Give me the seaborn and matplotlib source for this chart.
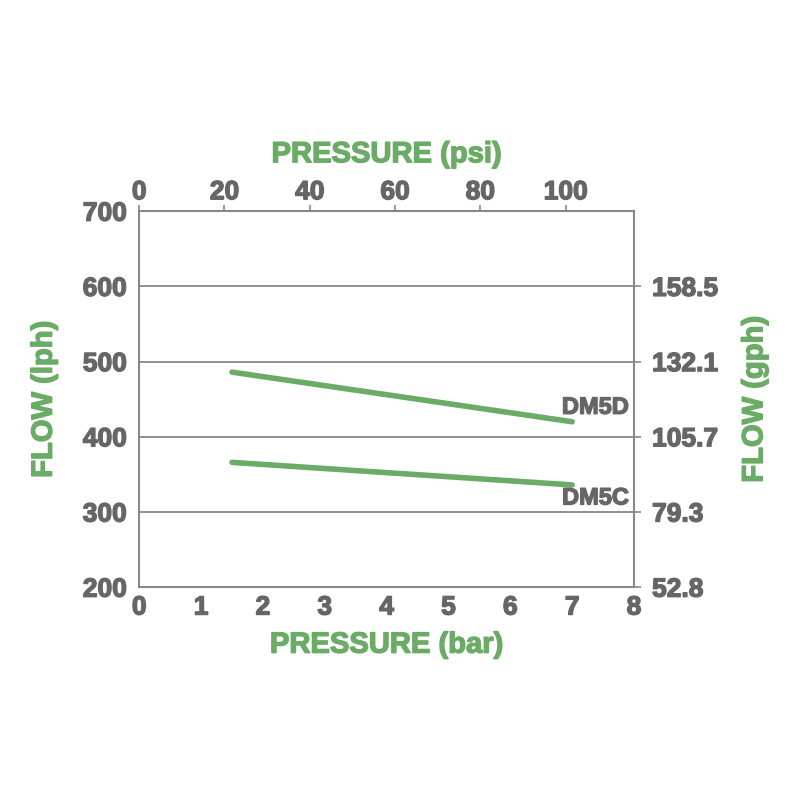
import numpy as np
import pandas as pd
import seaborn as sns
import matplotlib.pyplot as plt
import matplotlib.patheffects as pe

# data
pressure_bar = [1.5, 7.0]
dm5d_lph = [486, 420]
dm5c_lph = [366, 336]
models = ['DM5D', 'DM5C']
lph_ticks = [200, 300, 400, 500, 600, 700]
gph_tick_lph = [200, 300, 400, 500, 600]
gph_labels = ['52.8', '79.3', '105.7', '132.1', '158.5']
psi_ticks = [0, 20, 40, 60, 80, 100]

GREEN = '#6aab66'
GREY = '#666666'
LPH_PER_GPH = 3.785
PSI_PER_BAR = 14.5038

df = pd.DataFrame({
    'bar': pressure_bar * 2,
    'lph': dm5d_lph + dm5c_lph,
    'model': [models[0]] * 2 + [models[1]] * 2,
})

sns.set_style('white')
plt.rcParams['font.family'] = ['Liberation Sans', 'DejaVu Sans']
plt.rcParams['font.weight'] = 'bold'

fig = plt.figure(figsize=(8, 8), dpi=100)
ax = fig.add_axes([0.174, 0.266, 0.6185, 0.47])

sns.lineplot(data=df, x='bar', y='lph', units='model', estimator=None,
             color=GREEN, linewidth=4, ax=ax, legend=False)

ax.set_xlim(0, 8)
ax.set_ylim(200, 700)
ax.set_xticks(range(0, 9))
ax.set_yticks(lph_ticks)
for y in lph_ticks[1:-1]:
    ax.axhline(y, color='#888888', lw=1.3, zorder=0)

for s in ax.spines.values():
    s.set_color('#888888')
    s.set_linewidth(1.5)

thick = lambda c: [pe.withStroke(linewidth=1.0, foreground=c)]

ax.tick_params(axis='both', colors='#888888', labelcolor=GREY, labelsize=19,
               length=4, width=1.2, direction='out')
ax.tick_params(axis='x', pad=2)
ax.tick_params(axis='y', pad=5)
ax.set_xlabel('PRESSURE (bar)', color=GREEN, fontsize=21, fontweight='bold',
              labelpad=8, path_effects=thick(GREEN))
ax.set_ylabel('FLOW (lph)', color=GREEN, fontsize=21, fontweight='bold',
              labelpad=18, path_effects=thick(GREEN))

# end labels
ax.text(7.92, dm5d_lph[1] + 4, models[0], color=GREY, fontsize=17,
        fontweight='bold', ha='right', va='bottom', path_effects=thick(GREY))
ax.text(7.92, dm5c_lph[1] - 2, models[1], color=GREY, fontsize=17,
        fontweight='bold', ha='right', va='top', path_effects=thick(GREY))

# top psi axis
top = ax.secondary_xaxis('top', functions=(lambda b: b * PSI_PER_BAR,
                                           lambda p: p / PSI_PER_BAR))
top.set_xticks(psi_ticks)
top.tick_params(colors='#888888', labelcolor=GREY, labelsize=19, length=4,
                width=1.2, pad=1)
top.set_xlabel('PRESSURE (psi)', color=GREEN, fontsize=21, fontweight='bold',
               labelpad=13, path_effects=thick(GREEN))
top.spines['top'].set_visible(False)

# right gph axis
right = ax.secondary_yaxis('right', functions=(lambda l: l / LPH_PER_GPH,
                                               lambda g: g * LPH_PER_GPH))
right.set_yticks([l / LPH_PER_GPH for l in gph_tick_lph])
right.set_yticklabels(gph_labels)
right.tick_params(colors='#888888', labelcolor=GREY, labelsize=19, length=5,
                  width=1.2, pad=8)
right.set_ylabel('FLOW (gph)', color=GREEN, fontsize=21, fontweight='bold',
                 labelpad=16, path_effects=thick(GREEN))
right.spines['right'].set_visible(False)

for lab in (ax.get_xticklabels() + ax.get_yticklabels() +
            top.get_xticklabels() + right.get_yticklabels()):
    lab.set_path_effects(thick(GREY))

fig.savefig('out.png', dpi=100, facecolor='white')
